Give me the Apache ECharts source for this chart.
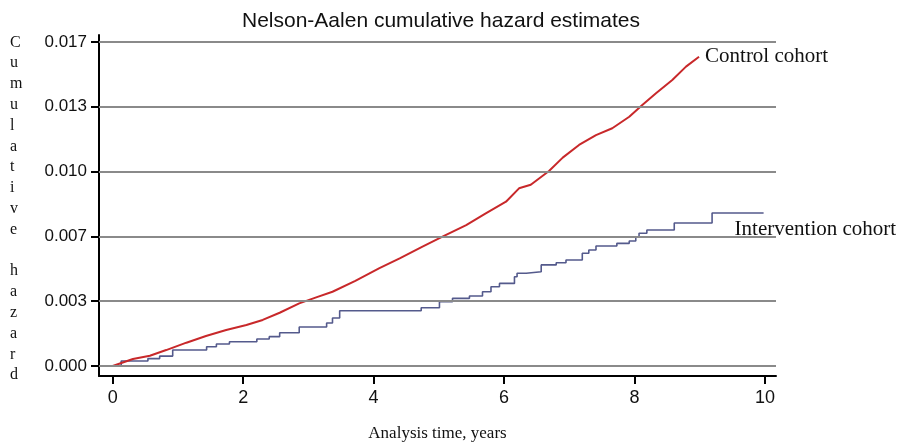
<!DOCTYPE html>
<html><head><meta charset="utf-8">
<script src="https://cdn.jsdelivr.net/npm/echarts@6/dist/echarts.min.js"></script>
<style>html,body{margin:0;padding:0;background:#fff}#c{width:904px;height:443px}</style>
</head><body><div id="c"></div>
<script>
const titleText = 'Nelson-Aalen cumulative hazard estimates';
const xName = 'Analysis time, years';
const yName = 'Cumulative hazard';
const xTicks = [0, 2, 4, 6, 8, 10];
const yTicks = [0, 0.0033333, 0.0066667, 0.01, 0.0133333, 0.0166667];
const yTickLabels = ['0.000', '0.003', '0.007', '0.010', '0.013', '0.017'];
const controlName = 'Control cohort';
const interventionName = 'Intervention cohort';
// [years, cumulative hazard]
const controlData = [
  [0, 0], [0.31, 0.00036], [0.57, 0.00053], [0.82, 0.00082], [1.13, 0.00120],
  [1.43, 0.00154], [1.74, 0.00185], [2.05, 0.00211], [2.30, 0.00237], [2.56, 0.00274],
  [2.86, 0.00322], [3.12, 0.00353], [3.37, 0.00382], [3.72, 0.00438],
  [4.09, 0.00503], [4.40, 0.00554], [4.75, 0.00614], [5.08, 0.00669], [5.42, 0.00725],
  [5.72, 0.00785], [6.03, 0.00845], [6.23, 0.00914], [6.41, 0.00932], [6.69, 0.01003],
  [6.90, 0.01072], [7.15, 0.01137], [7.41, 0.01188], [7.66, 0.01223], [7.92, 0.01282],
  [8.12, 0.01343], [8.33, 0.01403], [8.58, 0.01471], [8.79, 0.01540], [8.99, 0.01591]
];
// step points: [time of jump, value after jump]
const interventionData = [
  [0, 0], [0.13, 0.00026], [0.54, 0.00038], [0.72, 0.00051], [0.92, 0.00082],
  [1.44, 0.00099], [1.59, 0.00113], [1.79, 0.00125], [2.21, 0.00139], [2.40, 0.00151],
  [2.56, 0.00171], [2.86, 0.00201], [3.28, 0.00221], [3.37, 0.00247], [3.48, 0.00284],
  [4.73, 0.00300], [5.01, 0.00331], [5.21, 0.00348], [5.47, 0.00360], [5.67, 0.00382],
  [5.80, 0.00408], [5.93, 0.00425], [6.16, 0.00459], [6.20, 0.00477], [6.34, 0.00485],
  [6.57, 0.00520], [6.80, 0.00531], [6.95, 0.00545], [7.20, 0.00580], [7.30, 0.00597],
  [7.41, 0.00617], [7.73, 0.00631], [7.92, 0.00643], [8.02, 0.00662], [8.07, 0.00683],
  [8.19, 0.00700], [8.61, 0.00736], [9.19, 0.00787], [9.98, 0.00787]
];

const chart = echarts.init(document.getElementById('c'), null, {renderer: 'canvas'});
const nearestLabel = v => {
  const i = yTicks.findIndex(t => Math.abs(t - v) < 1e-6);
  return i >= 0 ? yTickLabels[i] : '';
};
chart.setOption({
  animation: false,
  backgroundColor: '#fff',
  title: {
    text: titleText, left: 237, top: 6,
    textStyle: {fontFamily: 'Liberation Sans, Arial', fontSize: 21, fontWeight: 'normal', color: '#111'}
  },
  grid: {left: 99, right: 128, top: 35, bottom: 67, containLabel: false, outerBoundsMode: 'none'},
  xAxis: {
    type: 'value', min: -0.21, max: 10.17,
    name: xName, nameLocation: 'middle', nameGap: 49,
    nameTextStyle: {fontFamily: 'Liberation Serif, Times New Roman', fontSize: 17, color: '#111'},
    axisLine: {show: true, onZero: false, lineStyle: {color: '#000', width: 2}},
    axisTick: {show: true, customValues: xTicks, length: 8, lineStyle: {color: '#000', width: 2}},
    axisLabel: {customValues: xTicks, margin: 13, fontFamily: 'Liberation Sans, Arial', fontSize: 18, color: '#111'},
    splitLine: {show: false}
  },
  yAxis: {
    type: 'value', min: -0.000514, max: 0.017027,
    axisLine: {show: true, onZero: false, lineStyle: {color: '#000', width: 2}},
    axisTick: {show: true, customValues: yTicks, length: 8, lineStyle: {color: '#000', width: 2}},
    axisLabel: {customValues: yTicks, margin: 12, formatter: nearestLabel,
      fontFamily: 'Liberation Sans, Arial', fontSize: 17, color: '#111'},
    splitLine: {show: false}
  },
  graphic: [{
    type: 'text', left: 10, top: 32,
    style: {
      text: yName.split('').join('\n'),
      font: '16px "Liberation Serif", "Times New Roman", serif',
      lineHeight: 20.8, fill: '#111', align: 'center'
    }
  }],
  series: [
    {
      type: 'line', data: [], z: 1, silent: true,
      markLine: {
        silent: true, symbol: 'none', precision: 7, label: {show: false},
        lineStyle: {color: '#8a8a8a', width: 2, type: 'solid'},
        data: yTicks.map(v => ({yAxis: v}))
      }
    },
    {
      name: controlName, type: 'line', data: controlData, z: 3,
      showSymbol: false, smooth: false,
      lineStyle: {color: '#c8282a', width: 2},
      endLabel: {show: true, formatter: controlName, distance: 6,
        fontFamily: 'Liberation Serif, Times New Roman', fontSize: 21, color: '#111'}
    },
    {
      name: interventionName, type: 'line', step: 'end', data: interventionData, z: 2,
      showSymbol: false,
      lineStyle: {color: '#545a8c', width: 1.6},
      endLabel: {show: true, formatter: interventionName, distance: 4, offset: [-33, 16],
        fontFamily: 'Liberation Serif, Times New Roman', fontSize: 21, color: '#111'}
    }
  ]
});
</script></body></html>
